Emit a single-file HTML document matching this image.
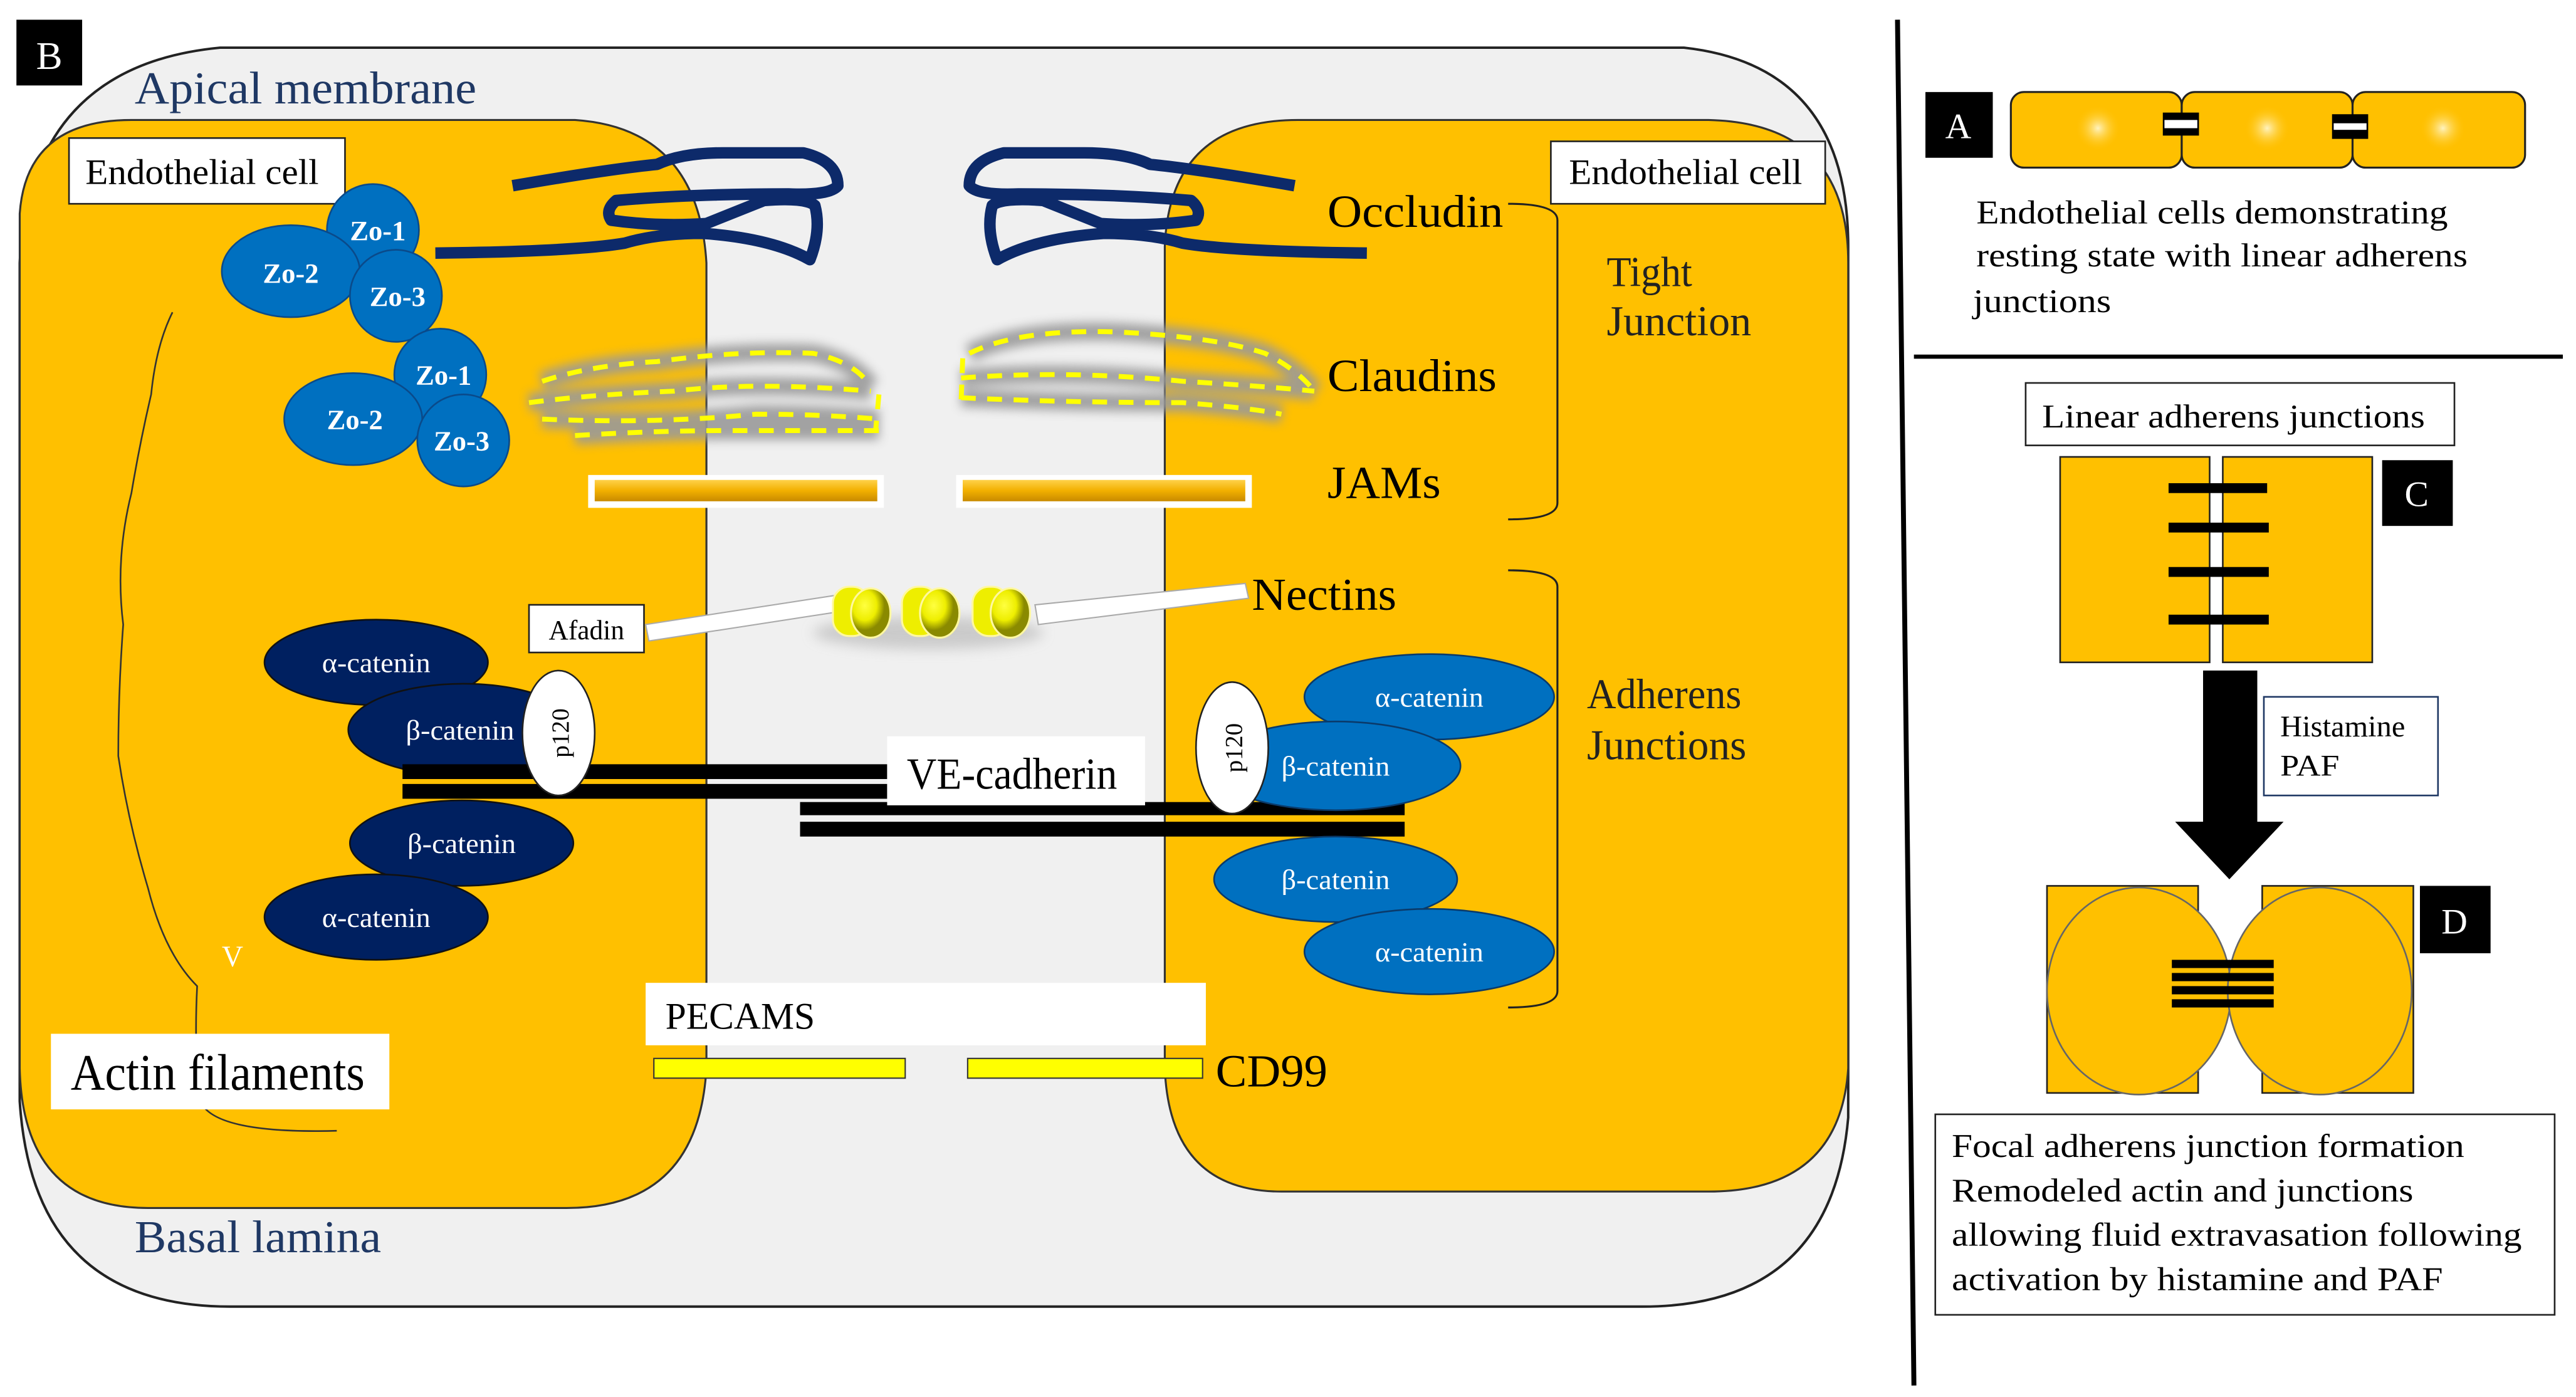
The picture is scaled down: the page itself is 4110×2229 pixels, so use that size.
<!DOCTYPE html>
<html><head><meta charset="utf-8"><style>html,body{margin:0;padding:0;background:#fff}svg{display:block}text{font-family:"Liberation Serif",serif}</style></head><body>
<svg width="4110" height="2229" viewBox="0 0 1568 850" preserveAspectRatio="none" xmlns="http://www.w3.org/2000/svg">
<defs>
<filter id="bl" x="-20%" y="-50%" width="140%" height="200%"><feGaussianBlur stdDeviation="3"/></filter>
<filter id="sh" x="-20%" y="-50%" width="140%" height="200%"><feGaussianBlur stdDeviation="4"/></filter>
<radialGradient id="glow"><stop offset="0" stop-color="#fff3c0"/><stop offset="1" stop-color="#ffc000" stop-opacity="0"/></radialGradient>
<linearGradient id="jam" x1="0" y1="0" x2="0" y2="1"><stop offset="0" stop-color="#ffd24a"/><stop offset="0.5" stop-color="#f2b000"/><stop offset="1" stop-color="#c88a00"/></linearGradient>
<radialGradient id="disc" cx="0.35" cy="0.35"><stop offset="0" stop-color="#ffff40"/><stop offset="0.6" stop-color="#eeee00"/><stop offset="1" stop-color="#8a8a00"/></radialGradient>
</defs>
<rect width="1568" height="850" fill="#fff"/>
<path d="M12,160 Q18,40 134,29 L1025,29 Q1125,40 1125,150 L1125,680 Q1115,795 1000,795 L140,795 Q20,795 12,670 Z" fill="#f0f0f0" stroke="#222" stroke-width="1.5"/>
<path d="M12,130 Q16,73 80,73 L350,73 Q425,78 430,160 L430,650 Q425,735 345,735 L90,735 Q14,735 12,650 Z" fill="#ffc000" stroke="#333" stroke-width="1.2"/>
<path d="M709,150 Q712,73 790,73 L1040,73 Q1125,75 1125,160 L1125,650 Q1120,725 1040,725 L780,725 Q712,725 709,650 Z" fill="#ffc000" stroke="#333" stroke-width="1.2"/>
<rect x="10" y="12" width="40" height="40" fill="#000"/>
<text x="30" y="42" fill="#fff" font-size="24" text-anchor="middle">B</text>
<text x="82" y="63" fill="#1f3864" font-size="28" textLength="208" lengthAdjust="spacingAndGlyphs">Apical membrane</text>
<text x="82" y="762" fill="#1f3864" font-size="28" textLength="150" lengthAdjust="spacingAndGlyphs">Basal lamina</text>
<rect x="42" y="84" width="168" height="40" fill="#fff" stroke="#222"/>
<text x="52" y="112" font-size="22" textLength="142" lengthAdjust="spacingAndGlyphs">Endothelial  cell</text>
<rect x="944" y="86" width="167" height="38" fill="#fff" stroke="#222"/>
<text x="955" y="112" font-size="22" textLength="142" lengthAdjust="spacingAndGlyphs">Endothelial  cell</text>
<path d="M105,190 Q95,210 92,240 Q85,270 80,300 Q70,340 75,380 Q72,420 72,460 Q78,500 90,540 Q100,580 120,600 Q118,640 122,670 Q130,690 205,688" fill="none" stroke="#333" stroke-width="1"/>
<text x="135" y="588" fill="#fff" font-size="18">V</text>
<!-- occludin -->
<g fill="none" stroke="#0d2a6a" stroke-width="7" stroke-linejoin="round" stroke-linecap="butt">
<path id="occ" d="M312,113 Q370,103 400,100 Q415,93 440,93 L489,93 Q510,98 510,113 Q505,119 480,118 Q420,118 375,122 Q368,128 372,134 Q400,138 430,136 Q450,128 465,122 Q490,120 496,125 Q500,140 493,158 Q470,145 428,142 Q400,142 380,148 Q350,153 265,154"/>
<path transform="translate(1100,0) scale(-1,1)" d="M312,113 Q370,103 400,100 Q415,93 440,93 L489,93 Q510,98 510,113 Q505,119 480,118 Q420,118 375,122 Q368,128 372,134 Q400,138 430,136 Q450,128 465,122 Q490,120 496,125 Q500,140 493,158 Q470,145 428,142 Q400,142 380,148 Q350,153 268,154"/>
</g>
<text x="808" y="138" font-size="28" textLength="107" lengthAdjust="spacingAndGlyphs">Occludin</text>
<!-- ZO -->
<g fill="#0070c0" stroke="#0a4a8a" stroke-width="1">
<circle cx="227" cy="140" r="28"/><ellipse cx="177" cy="165" rx="42" ry="28"/><circle cx="241" cy="180" r="28"/>
<circle cx="268" cy="228" r="28"/><ellipse cx="215" cy="255" rx="42" ry="28"/><circle cx="282" cy="268" r="28"/>
</g>
<g fill="#fff" font-size="17" font-weight="bold" text-anchor="middle">
<text x="230" y="146">Zo-1</text><text x="177" y="172">Zo-2</text><text x="242" y="186">Zo-3</text>
<text x="270" y="234">Zo-1</text><text x="216" y="261">Zo-2</text><text x="281" y="274">Zo-3</text>
</g>
<!-- claudins -->
<g fill="none" stroke="#9a9a9a" stroke-width="11" filter="url(#bl)" opacity="0.9">
<path d="M330,232 Q360,222 400,220 Q450,213 495,215 Q520,220 530,235"/>
<path d="M322,245 Q360,240 410,238 Q460,232 530,238"/>
<path d="M330,255 Q400,258 460,252 Q500,252 535,255"/>
<path d="M350,265 Q400,262 440,262 Q500,262 535,262"/>
<path d="M590,215 Q620,200 680,202 Q740,205 770,215 Q790,225 800,238"/>
<path d="M585,230 Q650,225 720,232 Q770,235 800,238"/>
<path d="M585,242 Q650,245 720,245 Q760,248 780,252"/>
</g>
<g fill="none" stroke="#ffff00" stroke-width="3" stroke-dasharray="9,7">
<path d="M330,232 Q360,222 400,220 Q450,213 495,215 Q520,220 530,235"/>
<path d="M322,245 Q360,240 410,238 Q460,232 530,238"/>
<path d="M330,255 Q400,258 460,252 Q500,252 535,255"/>
<path d="M350,265 Q400,262 440,262 Q500,262 535,262"/>
<path d="M535,240 L533,262"/>
<path d="M590,215 Q620,200 680,202 Q740,205 770,215 Q790,225 800,238"/>
<path d="M585,230 Q650,225 720,232 Q770,235 800,238"/>
<path d="M585,242 Q650,245 720,245 Q760,248 780,252"/>
<path d="M586,218 L585,245"/>
</g>
<text x="808" y="238" font-size="28" textLength="103" lengthAdjust="spacingAndGlyphs">Claudins</text>
<!-- JAMs -->
<rect x="358" y="289" width="180" height="20" fill="#fff"/><rect x="362" y="292" width="172" height="13" fill="url(#jam)"/>
<rect x="582" y="289" width="180" height="20" fill="#fff"/><rect x="586" y="292" width="172" height="13" fill="url(#jam)"/>
<text x="808" y="303" font-size="28" textLength="69" lengthAdjust="spacingAndGlyphs">JAMs</text>
<path d="M918,124 Q948,124 948,134 L948,306 Q948,316 918,316" fill="none" stroke="#222" stroke-width="1.2"/>
<path d="M918,347 Q948,347 948,357 L948,603 Q948,613 918,613" fill="none" stroke="#222" stroke-width="1.2"/>
<g font-size="26" fill="#222">
<text x="978" y="174" textLength="52" lengthAdjust="spacingAndGlyphs">Tight</text>
<text x="978" y="204" textLength="88" lengthAdjust="spacingAndGlyphs">Junction</text>
<text x="966" y="431" textLength="94" lengthAdjust="spacingAndGlyphs">Adherens</text>
<text x="966" y="462" textLength="97" lengthAdjust="spacingAndGlyphs">Junctions</text>
</g>
<!-- nectins -->
<ellipse cx="565" cy="385" rx="70" ry="10" fill="#bbb" filter="url(#sh)" opacity="0.7"/>
<path d="M393,380 L510,362 L512,372 L395,390 Z" fill="#fff" stroke="#aaa" stroke-width="0.8"/>
<path d="M630,368 L758,355 L760,364 L632,380 Z" fill="#fff" stroke="#aaa" stroke-width="0.8"/>
<g stroke="#fff8a0" stroke-width="1.2">
<rect x="507" y="357" width="22" height="30" rx="10" fill="#eeee00"/><ellipse cx="530" cy="373" rx="12" ry="15" fill="url(#disc)"/>
<rect x="549" y="357" width="22" height="30" rx="10" fill="#eeee00"/><ellipse cx="572" cy="373" rx="12" ry="15" fill="url(#disc)"/>
<rect x="592" y="357" width="22" height="30" rx="10" fill="#eeee00"/><ellipse cx="615" cy="373" rx="12" ry="15" fill="url(#disc)"/>
</g>
<rect x="322" y="368" width="70" height="29" fill="#fff" stroke="#222"/>
<text x="357" y="389" font-size="17" text-anchor="middle" textLength="46" lengthAdjust="spacingAndGlyphs">Afadin</text>
<text x="762" y="371" font-size="28" textLength="88" lengthAdjust="spacingAndGlyphs">Nectins</text>
<!-- catenins left -->
<g fill="#002060" stroke="#111" stroke-width="1">
<ellipse cx="229" cy="403" rx="68" ry="26"/><ellipse cx="282" cy="444" rx="70" ry="28"/>
<ellipse cx="281" cy="513" rx="68" ry="26"/><ellipse cx="229" cy="558" rx="68" ry="26"/>
</g>
<g fill="#fff" font-size="17" text-anchor="middle">
<text x="229" y="409" textLength="66" lengthAdjust="spacingAndGlyphs">α-catenin</text><text x="280" y="450" textLength="66" lengthAdjust="spacingAndGlyphs">β-catenin</text>
<text x="281" y="519" textLength="66" lengthAdjust="spacingAndGlyphs">β-catenin</text><text x="229" y="564" textLength="66" lengthAdjust="spacingAndGlyphs">α-catenin</text>
</g>
<rect x="245" y="465" width="295" height="9" fill="#000"/><rect x="245" y="477" width="295" height="9" fill="#000"/>
<rect x="487" y="488" width="368" height="8" fill="#000"/><rect x="487" y="500" width="368" height="9" fill="#000"/>
<rect x="540" y="448" width="157" height="42" fill="#fff"/>
<text x="552" y="480" font-size="27" textLength="128" lengthAdjust="spacingAndGlyphs">VE-cadherin</text>
<g fill="#0070c0" stroke="#0a3a6a" stroke-width="1">
<ellipse cx="870" cy="424" rx="76" ry="26"/><ellipse cx="813" cy="466" rx="76" ry="27"/>
<ellipse cx="813" cy="535" rx="74" ry="26"/><ellipse cx="870" cy="579" rx="76" ry="26"/>
</g>
<g fill="#fff" font-size="17" text-anchor="middle">
<text x="870" y="430" textLength="66" lengthAdjust="spacingAndGlyphs">α-catenin</text><text x="813" y="472" textLength="66" lengthAdjust="spacingAndGlyphs">β-catenin</text>
<text x="813" y="541" textLength="66" lengthAdjust="spacingAndGlyphs">β-catenin</text><text x="870" y="585" textLength="66" lengthAdjust="spacingAndGlyphs">α-catenin</text>
</g>
<ellipse cx="340" cy="446" rx="22" ry="38" fill="#fff" stroke="#222"/>
<text transform="translate(346,446) rotate(-90)" font-size="15" text-anchor="middle">p120</text>
<ellipse cx="750" cy="455" rx="22" ry="40" fill="#fff" stroke="#222"/>
<text transform="translate(756,455) rotate(-90)" font-size="15" text-anchor="middle">p120</text>
<rect x="393" y="598" width="341" height="38" fill="#fff"/>
<text x="405" y="626" font-size="23" textLength="91" lengthAdjust="spacingAndGlyphs">PECAMS</text>
<rect x="398" y="644" width="153" height="12" fill="#ffff00" stroke="#333" stroke-width="0.8"/>
<rect x="589" y="644" width="143" height="12" fill="#ffff00" stroke="#333" stroke-width="0.8"/>
<text x="740" y="661" font-size="28" textLength="68" lengthAdjust="spacingAndGlyphs">CD99</text>
<rect x="31" y="629" width="206" height="46" fill="#fff"/>
<text x="43" y="663" font-size="31" textLength="179" lengthAdjust="spacingAndGlyphs">Actin filaments</text>
<!-- right panel -->
<line x1="1155" y1="12" x2="1165" y2="843" stroke="#000" stroke-width="3"/>
<line x1="1165" y1="217" x2="1560" y2="217" stroke="#000" stroke-width="2.5"/>
<rect x="1172" y="56" width="41" height="40" fill="#000"/>
<text x="1192" y="84" fill="#fff" font-size="22" text-anchor="middle">A</text>
<g fill="#ffc000" stroke="#222" stroke-width="1.2">
<rect x="1224" y="56" width="104" height="46" rx="8"/><rect x="1328" y="56" width="104" height="46" rx="8"/><rect x="1432" y="56" width="105" height="46" rx="8"/>
</g>
<circle cx="1277" cy="78" r="14" fill="url(#glow)"/><circle cx="1380" cy="78" r="14" fill="url(#glow)"/><circle cx="1487" cy="78" r="14" fill="url(#glow)"/>
<rect x="1317" y="69" width="21" height="13" fill="#fff" stroke="#000" stroke-width="1"/><rect x="1317" y="69" width="21" height="4" fill="#000"/><rect x="1317" y="78" width="21" height="4" fill="#000"/>
<rect x="1420" y="70" width="21" height="14" fill="#fff" stroke="#000" stroke-width="1"/><rect x="1420" y="70" width="21" height="5" fill="#000"/><rect x="1420" y="79" width="21" height="5" fill="#000"/>
<g font-size="20">
<text x="1203" y="136" textLength="287" lengthAdjust="spacingAndGlyphs">Endothelial  cells  demonstrating</text>
<text x="1203" y="162" textLength="299" lengthAdjust="spacingAndGlyphs">resting  state with  linear  adherens</text>
<text x="1201" y="190" textLength="84" lengthAdjust="spacingAndGlyphs">junctions</text>
</g>
<rect x="1233" y="233" width="261" height="38" fill="#fff" stroke="#222"/>
<text x="1243" y="260" font-size="20" textLength="233" lengthAdjust="spacingAndGlyphs">Linear  adherens junctions</text>
<rect x="1254" y="278" width="91" height="125" fill="#ffc000" stroke="#222"/>
<rect x="1353" y="278" width="91" height="125" fill="#ffc000" stroke="#222"/>
<g fill="#000"><rect x="1320" y="294" width="60" height="6"/><rect x="1320" y="318" width="61" height="6"/><rect x="1320" y="345" width="61" height="6"/><rect x="1320" y="374" width="61" height="6"/></g>
<rect x="1450" y="280" width="43" height="40" fill="#000"/>
<text x="1471" y="308" fill="#fff" font-size="22" text-anchor="middle">C</text>
<path d="M1341,408 L1374,408 L1374,500 L1390,500 L1357,535 L1324,500 L1341,500 Z" fill="#000"/>
<rect x="1378" y="424" width="106" height="60" fill="#fff" stroke="#1f3864"/>
<text x="1388" y="448" font-size="18" textLength="76" lengthAdjust="spacingAndGlyphs">Histamine</text>
<text x="1388" y="472" font-size="18" textLength="36" lengthAdjust="spacingAndGlyphs">PAF</text>
<rect x="1246" y="539" width="92" height="126" fill="#ffc000" stroke="#222"/>
<rect x="1377" y="539" width="92" height="126" fill="#ffc000" stroke="#222"/>
<ellipse cx="1302" cy="603" rx="56" ry="63" fill="#ffc000" stroke="#666"/>
<ellipse cx="1412" cy="603" rx="56" ry="63" fill="#ffc000" stroke="#666"/>
<g fill="#000"><rect x="1322" y="584" width="62" height="5"/><rect x="1322" y="592" width="62" height="5"/><rect x="1322" y="600" width="62" height="5"/><rect x="1322" y="608" width="62" height="5"/></g>
<rect x="1473" y="539" width="43" height="41" fill="#000"/>
<text x="1494" y="568" fill="#fff" font-size="22" text-anchor="middle">D</text>
<rect x="1178" y="678" width="377" height="122" fill="#fff" stroke="#222"/>
<g font-size="20">
<text x="1188" y="704" textLength="312" lengthAdjust="spacingAndGlyphs">Focal adherens junction  formation</text>
<text x="1188" y="731" textLength="281" lengthAdjust="spacingAndGlyphs">Remodeled actin and junctions</text>
<text x="1188" y="758" textLength="347" lengthAdjust="spacingAndGlyphs">allowing  fluid  extravasation  following</text>
<text x="1188" y="785" textLength="299" lengthAdjust="spacingAndGlyphs">activation  by histamine  and PAF</text>
</g>
</svg>
</body></html>
